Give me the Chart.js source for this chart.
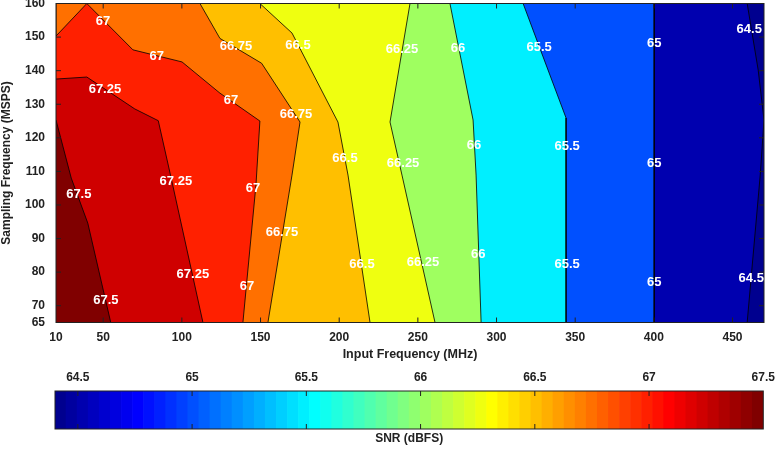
<!DOCTYPE html>
<html><head><meta charset="utf-8">
<script src="https://cdn.jsdelivr.net/npm/chart.js@4.4.1/dist/chart.umd.min.js"></script>
<style>html,body{margin:0;padding:0;background:#fff;} canvas{display:block;}</style>
</head><body>
<canvas id="main" width="775" height="365"></canvas>
<canvas id="cbar" width="775" height="85"></canvas>
<script>
// ---------------- data ----------------
const xRange = [20, 470];
const yRange = [65, 160];
const xTickValues = [20, 50, 100, 150, 200, 250, 300, 350, 400, 450];
const xTickLabels = ['10', '50', '100', '150', '200', '250', '300', '350', '400', '450'];
const yTickValues = [65, 70, 80, 90, 100, 110, 120, 130, 140, 150, 160];

// contour levels (SNR, dBFS) and their boundary lines [input MHz, sampling MSPS], top to bottom
const levels = [64.5, 65, 65.5, 66, 66.25, 66.5, 66.75, 67, 67.25, 67.5];
const contour64_5 = [[459.3,160],[466.3,140.2],[470,125.3],[467.6,108.9],[459.3,65]];
const contour65   = [[400.2,160],[400.2,65]];
const contour65_5 = [[316.9,160],[329.6,144.1],[344.2,125.9],[344.2,65]];
const contour66   = [[270.4,160],[285.1,125.3],[287,108.9],[290.2,65]];
const contour66_25= [[245,160],[232.3,124.7],[239.9,108.9],[260.9,65]];
const contour66_5 = [[149.6,160],[170,151.2],[199.2,124.7],[205.6,108.9],[219.6,65]];
const contour66_75= [[111.5,160],[124.2,149.6],[150.7,142.2],[175.1,124.7],[170,108.9],[154.7,65]];
const contour67   = [[20,150.3],[39.6,160],[68.9,146.2],[100.1,142.6],[124.2,133.3],[149.6,125],[147.1,106],[138.8,65]];
const contour67_25= [[20,137.5],[39.6,138.1],[70.1,128.6],[85,125.1],[93.5,107.4],[113.4,65]];
const contour67_5 = [[20,125.3],[29.7,108],[40.2,94.6],[54.8,65]];
const contours = [contour64_5, contour65, contour65_5, contour66, contour66_25, contour66_5, contour66_75, contour67, contour67_25, contour67_5];

const labelText = ['67','67','66.75','66.5','66.25','66','65.5','65','64.5',
  '67.25','67','66.75','66.5','66.25','66','65.5','65',
  '67.5','67.25','67','66.75','66.5','66.25','66','65.5','65','64.5',
  '67.25','67','67.5'];
const labelX = [49.8,84.1,134.4,173.8,239.9,275.5,327.1,400.2,460.6,
  51.1,131.2,172.5,203.7,240.6,285.7,344.9,400.2,
  34.5,96.2,145.2,163.6,214.5,253.3,288.3,344.9,400.2,461.9,
  107.0,141.4,51.7];
const labelY = [154.8,144.1,147.3,147.6,146.2,146.5,146.8,148.2,152.4,
  134.5,131.0,127.1,114.0,112.5,117.6,117.3,112.5,
  103.0,106.9,104.8,91.7,82.4,83.0,85.4,82.4,76.8,78.0,
  79.4,75.6,71.7];

const cbarRange = [64.4, 67.5];
const cbarTicks = [64.5, 65, 65.5, 66, 66.5, 67, 67.5];
const cbarSteps = 64;

// ---------------- styling helpers ----------------
const FONT = "'Liberation Sans', Arial, Helvetica, sans-serif";
Chart.defaults.font.family = FONT;
function jet(n) {
  const m = Math.ceil(n / 4);
  const u = [];
  for (let k = 1; k <= m; k++) u.push(k / m);
  for (let k = 1; k < m; k++) u.push(1);
  for (let k = m; k >= 1; k--) u.push(k / m);
  const g0 = Math.ceil(m / 2) - (n % 4 === 1 ? 1 : 0);
  const cols = Array.from({length: n}, () => [0, 0, 0]);
  u.forEach((v, k) => {
    const g = g0 + k, r = g + m, b = g - m;
    if (r < n) cols[r][0] = v;
    if (g < n) cols[g][1] = v;
    if (b >= 0 && b < n) cols[b][2] = v;
  });
  return cols.map(c => `rgb(${Math.round(c[0]*255)},${Math.round(c[1]*255)},${Math.round(c[2]*255)})`);
}
const JET = jet(cbarSteps);
function colorFor(v) {
  let i = Math.floor((v - cbarRange[0]) / (cbarRange[1] - cbarRange[0]) * cbarSteps);
  i = Math.max(0, Math.min(cbarSteps - 1, i));
  return JET[i];
}

// ---------------- datasets (polygons: region SNR >= level) ----------------
const datasets = [];
for (let k = levels.length - 1; k >= 0; k--) {
  const c = contours[k];
  const pts = c.map(p => ({x: p[0], y: p[1]}));
  pts.push({x: xRange[0], y: yRange[0]});
  if (c[0][0] > xRange[0]) pts.push({x: xRange[0], y: yRange[1]});
  datasets.push({
    data: pts, showLine: true, fill: 'shape', tension: 0,
    backgroundColor: colorFor(levels[k]), borderColor: '#000', borderWidth: 0.8,
    pointRadius: 0, pointHoverRadius: 0
  });
}
datasets.push({
  data: [{x: xRange[0], y: yRange[0]}, {x: xRange[0], y: yRange[1]}, {x: xRange[1], y: yRange[1]}, {x: xRange[1], y: yRange[0]}],
  showLine: true, fill: 'shape', backgroundColor: colorFor(cbarRange[0]), borderWidth: 0, pointRadius: 0
});

// ---------------- plugins ----------------
const framePlugin = {
  id: 'frame',
  afterDatasetsDraw(chart, args, opts) {
    const {ctx, chartArea: a} = chart;
    ctx.save();
    ctx.strokeStyle = opts.color || '#222';
    ctx.lineWidth = 1;
    const len = opts.tickLen || 5;
    ctx.beginPath();
    (opts.xAxes || []).forEach(id => {
      const s = chart.scales[id];
      s.ticks.forEach(t => {
        const px = s.getPixelForValue(t.value);
        if (px <= a.left + 1 || px >= a.right - 1) return;
        ctx.moveTo(px, a.bottom); ctx.lineTo(px, a.bottom - len);
        ctx.moveTo(px, a.top); ctx.lineTo(px, a.top + len);
      });
    });
    (opts.yAxes || []).forEach(id => {
      const s = chart.scales[id];
      s.ticks.forEach(t => {
        const py = s.getPixelForValue(t.value);
        if (py <= a.top + 1 || py >= a.bottom - 1) return;
        ctx.moveTo(a.left, py); ctx.lineTo(a.left + len, py);
        ctx.moveTo(a.right, py); ctx.lineTo(a.right - len, py);
      });
    });
    ctx.stroke();
    ctx.strokeRect(a.left, a.top, a.right - a.left, a.bottom - a.top);
    ctx.restore();
  }
};
const labelPlugin = {
  id: 'clabels',
  afterDatasetsDraw(chart) {
    const {ctx, scales: {x, y}} = chart;
    ctx.save();
    ctx.font = 'bold 13px ' + FONT;
    ctx.fillStyle = '#fff';
    ctx.textAlign = 'center';
    ctx.textBaseline = 'middle';
    labelText.forEach((t, i) => ctx.fillText(t, x.getPixelForValue(labelX[i]), y.getPixelForValue(labelY[i])));
    ctx.restore();
  }
};
function noPad(s) { s.paddingTop = 0; s.paddingBottom = 0; s.paddingLeft = 0; s.paddingRight = 0; }

const tickFont = {size: 12, weight: 'bold', family: FONT};
const titleFont = {size: 12.5, weight: 'bold', family: FONT};
const noGrid = {display: false, drawTicks: false, tickLength: 0};

new Chart(document.getElementById('main'), {
  type: 'scatter',
  data: {datasets},
  options: {
    responsive: false, animation: false, devicePixelRatio: 1,
    layout: {padding: {top: 3.5, right: 11, left: 0, bottom: 0}},
    plugins: {legend: {display: false}, tooltip: {enabled: false},
      frame: {xAxes: ['x'], yAxes: ['y'], tickLen: 5, color: '#222'}},
    scales: {
      x: {
        type: 'linear', min: xRange[0], max: xRange[1],
        afterBuildTicks: s => { s.ticks = xTickValues.map(v => ({value: v})); },
        afterFit: s => { s.height = 42.5; noPad(s); },
        ticks: {callback: v => xTickLabels[xTickValues.indexOf(v)], font: tickFont, color: '#222',
          padding: 8.3, maxRotation: 0, autoSkip: false},
        grid: noGrid, border: {display: false},
        title: {display: true, text: 'Input Frequency (MHz)', font: titleFont, color: '#222', padding: {top: 0, bottom: 2.8}}
      },
      y: {
        type: 'linear', min: yRange[0], max: yRange[1],
        afterBuildTicks: s => { s.ticks = yTickValues.map(v => ({value: v})); },
        afterFit: s => { s.width = 56; noPad(s); },
        ticks: {font: tickFont, color: '#222', padding: 11, autoSkip: false},
        grid: noGrid, border: {display: false},
        title: {display: true, text: 'Sampling Frequency (MSPS)', font: {size: 12, weight: 'bold', family: FONT, lineHeight: 1}, color: '#222', padding: {top: 1, bottom: 0}}
      }
    }
  },
  plugins: [framePlugin, labelPlugin]
});

// ---------------- colorbar ----------------
const step = (cbarRange[1] - cbarRange[0]) / cbarSteps;
const cbarData = JET.map((c, i) => ({x: cbarRange[0] + (i + 0.5) * step, y: 1}));
new Chart(document.getElementById('cbar'), {
  type: 'bar',
  data: {datasets: [{data: cbarData, backgroundColor: JET, borderWidth: 0, barPercentage: 1, categoryPercentage: 1}]},
  options: {
    responsive: false, animation: false, devicePixelRatio: 1,
    layout: {padding: {left: 55, right: 11.7, top: 0, bottom: 0}},
    plugins: {legend: {display: false}, tooltip: {enabled: false},
      frame: {xAxes: ['x'], yAxes: [], tickLen: 5, color: '#222'}},
    scales: {
      x: {
        type: 'linear', position: 'top', min: cbarRange[0], max: cbarRange[1], offset: false,
        afterBuildTicks: s => { s.ticks = cbarTicks.map(v => ({value: v})); },
        afterFit: s => { s.height = 26; noPad(s); },
        ticks: {callback: v => String(v), font: tickFont, color: '#222', padding: 5.8, maxRotation: 0, autoSkip: false},
        grid: noGrid, border: {display: false}
      },
      x2: {
        type: 'linear', position: 'bottom', min: cbarRange[0], max: cbarRange[1], offset: false,
        afterFit: s => { s.height = 21; noPad(s); },
        ticks: {display: false}, grid: noGrid, border: {display: false},
        title: {display: true, text: 'SNR (dBFS)', font: tickFont, color: '#222', padding: {top: 0, bottom: 3.8}}
      },
      y: {display: false, min: 0, max: 1}
    }
  },
  plugins: [framePlugin]
});
</script>
</body></html>
